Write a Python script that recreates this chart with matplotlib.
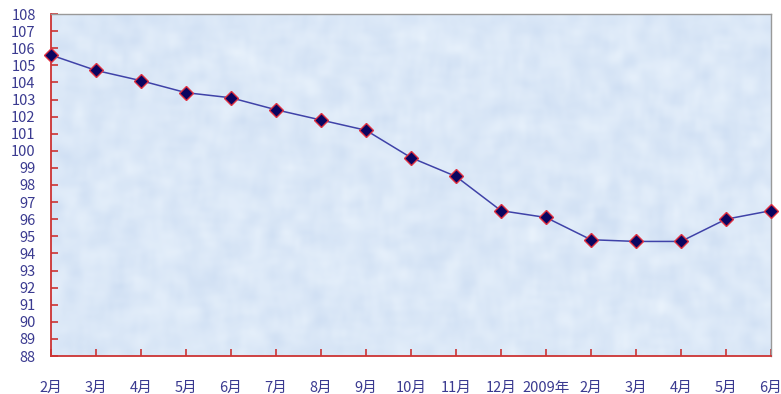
import numpy as np
import matplotlib.pyplot as plt

plt.rcParams['font.family'] = ['Noto Sans CJK SC', 'DejaVu Sans']

months = ['2月', '3月', '4月', '5月', '6月', '7月', '8月', '9月', '10月', '11月',
          '12月', '2009年', '2月', '3月', '4月', '5月', '6月']
values = [105.6, 104.7, 104.1, 103.4, 103.1, 102.4, 101.8, 101.2, 99.6, 98.5,
          96.5, 96.1, 94.8, 94.7, 94.7, 96.0, 96.5]
y_ticks = list(range(88, 109))

fig = plt.figure(figsize=(7.81, 3.94), dpi=100)
ax = fig.add_axes([51 / 781, 38 / 394, 720 / 781, 342 / 394])

x = np.arange(len(months))

# mottled light-blue backdrop
rng = np.random.default_rng(7)
tex = rng.normal(0, 1, (90, 200))
k = np.ones(4) / 4
tex = np.apply_along_axis(lambda r: np.convolve(r, k, mode='same'), 1, tex)
tex = np.apply_along_axis(lambda c: np.convolve(c, k, mode='same'), 0, tex)
base = np.array([0.86, 0.91, 0.97])
img = np.clip(base[None, None, :] + tex[..., None] * np.array([0.06, 0.045, 0.02]), 0, 1)
ax.imshow(img, extent=[0, len(months) - 1, 88, 108], aspect='auto',
          interpolation='bicubic', zorder=0)

ax.plot(x, values, color='#3f42a8', linewidth=1.1, marker='D', markersize=7.5,
        markerfacecolor='#0a0560', markeredgecolor='#e03040', markeredgewidth=1,
        zorder=3, clip_on=False)

ax.set_xlim(0, len(months) - 1)
ax.set_ylim(88, 108)
ax.set_yticks(y_ticks)
ax.set_xticks(x)
ax.set_xticklabels(months)

for side in ['left', 'bottom']:
    ax.spines[side].set_color('#cc3333')
    ax.spines[side].set_linewidth(1.3)
for side in ['top', 'right']:
    ax.spines[side].set_color('#999999')
    ax.spines[side].set_linewidth(1)

ax.tick_params(axis='both', direction='in', colors='#cc3333', length=5, width=1.2,
               labelcolor='#3a3a90', labelsize=10.5)
ax.tick_params(axis='y', pad=11)
ax.tick_params(axis='x', pad=18)

fig.savefig('out.png', dpi=100)
